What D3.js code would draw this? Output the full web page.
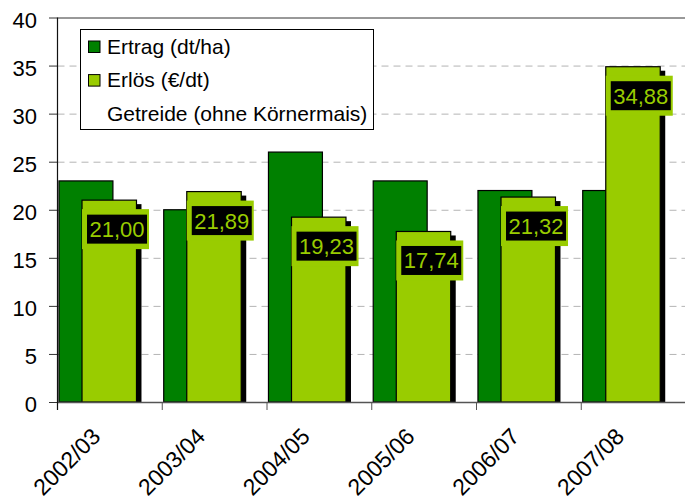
<!DOCTYPE html>
<html>
<head>
<meta charset="utf-8">
<script src="https://cdnjs.cloudflare.com/ajax/libs/d3/7.8.5/d3.min.js"></script>
<style>
  body { margin: 0; background: #fff; }
  svg { display: block; font-family: "Liberation Sans", Arial, sans-serif; }
</style>
</head>
<body>
<div id="chart"></div>
<script>
var categories = ["2002/03", "2003/04", "2004/05", "2005/06", "2006/07", "2007/08"];
var ertrag = [23, 20, 26, 23, 22, 22];
var erloes = [21.00, 21.89, 19.23, 17.74, 21.32, 34.88];
var yTicks = [0, 5, 10, 15, 20, 25, 30, 35, 40];
var legendLabels = ["Ertrag (dt/ha)", "Erlös (€/dt)", "Getreide (ohne Körnermais)"];

(function(d3) {
    var width = 685, height = 501;
    var left = 57.5, right = 686, top = 17.5, bottom = 402;
    var darkGreen = "#008000", lightGreen = "#99CC00";

    var svg = d3.select("#chart")
        .append("svg")
        .attr("width", width)
        .attr("height", height);

    var x = d3.scaleBand()
        .domain(categories)
        .range([left, right])
        .padding(0);

    var y = d3.scaleLinear()
        .domain([0, 40])
        .range([bottom, top]);

    var bw = x.bandwidth();

// GRID
    var grid = svg.append("g")
        .attr("transform", "translate(" + left + ",0)")
        .call(d3.axisLeft(y).tickValues(yTicks.slice(1)).tickSize(-(right - left)).tickFormat(""));
    grid.select(".domain").remove();
    grid.selectAll("line")
        .attr("stroke", function(d) { return d == 40 ? "#333" : "#b4b4b4"; })
        .attr("stroke-dasharray", function(d) { return d == 40 ? null : "7,5"; });

// AXIS Y
    var yAxis = svg.append("g")
        .attr("transform", "translate(" + left + ",0)")
        .call(d3.axisLeft(y).tickValues(yTicks).tickSize(8.5).tickPadding(12).tickSizeOuter(0));
    yAxis.select(".domain").remove();
    yAxis.selectAll("line").attr("stroke", "#333");
    yAxis.selectAll("text")
        .attr("font-size", "22px")
        .attr("font-family", "Liberation Sans, Arial, sans-serif")
        .attr("fill", "#000")
        .attr("dy", "9.5");

// BARS
    var idx = d3.range(categories.length);

    svg.selectAll("rect.ertrag")
        .data(idx)
        .enter()
        .append("rect")
        .attr("class", "ertrag")
        .attr("x", function(i) { return x(categories[i]) + bw * 0.014; })
        .attr("y", function(i) { return y(ertrag[i]); })
        .attr("width", bw * 0.515)
        .attr("height", function(i) { return bottom - y(ertrag[i]); })
        .attr("fill", darkGreen)
        .attr("stroke", "#000")
        .attr("stroke-width", 1.2);

    // shadow
    svg.selectAll("rect.shadow")
        .data(idx)
        .enter()
        .append("rect")
        .attr("class", "shadow")
        .attr("x", function(i) { return x(categories[i]) + bw * 0.234 + 5; })
        .attr("y", function(i) { return y(erloes[i]) + 4; })
        .attr("width", bw * 0.52)
        .attr("height", function(i) { return bottom - y(erloes[i]) - 4; })
        .attr("fill", "#000");

    svg.selectAll("rect.erloes")
        .data(idx)
        .enter()
        .append("rect")
        .attr("class", "erloes")
        .attr("x", function(i) { return x(categories[i]) + bw * 0.234; })
        .attr("y", function(i) { return y(erloes[i]); })
        .attr("width", bw * 0.52)
        .attr("height", function(i) { return bottom - y(erloes[i]); })
        .attr("fill", lightGreen)
        .attr("stroke", "#000")
        .attr("stroke-width", 1.2);

// LABELS
    var lab = svg.selectAll("g.lab")
        .data(idx)
        .enter()
        .append("g")
        .attr("class", "lab")
        .attr("transform", function(i) {
            return "translate(" + (x(categories[i]) + bw * 0.234) + "," + (y(erloes[i]) + 9) + ")";
        });
    lab.append("rect")
        .attr("width", 67)
        .attr("height", 40)
        .attr("fill", lightGreen);
    lab.append("rect")
        .attr("x", 5)
        .attr("y", 5.5)
        .attr("width", 60)
        .attr("height", 29)
        .attr("fill", "#000");
    lab.append("text")
        .text(function(i) { return erloes[i].toFixed(2).replace(".", ","); })
        .attr("x", 35)
        .attr("y", 28)
        .attr("text-anchor", "middle")
        .attr("font-size", "22px")
        .attr("fill", lightGreen);

// AXIS X
    var xAxis = svg.append("g")
        .attr("transform", "translate(0," + bottom + ")")
        .call(d3.axisBottom(x).tickSize(8).tickSizeOuter(0));
    xAxis.select(".domain").attr("stroke", "#555").attr("stroke-width", 1.5);
    xAxis.selectAll("line")
        .attr("stroke", "#555")
        .attr("x1", -bw / 2)
        .attr("x2", -bw / 2);
    xAxis.selectAll("text")
        .attr("font-size", "23px")
        .attr("font-family", "Liberation Sans, Arial, sans-serif")
        .attr("fill", "#000")
        .attr("text-anchor", "end")
        .attr("y", null)
        .attr("dy", null)
        .attr("transform", "translate(-8,36) rotate(-45)");

    // y axis line
    svg.append("line")
        .attr("x1", left).attr("x2", left)
        .attr("y1", top).attr("y2", bottom + 8)
        .attr("stroke", "#111")
        .attr("stroke-width", 1.2);

// LEGEND
    var legend = svg.append("g")
        .attr("transform", "translate(80.5,29.5)");
    legend.append("rect")
        .attr("width", 293)
        .attr("height", 100)
        .attr("fill", "#fff")
        .attr("stroke", "#000");
    var legendColors = [darkGreen, lightGreen, null];
    var items = legend.selectAll("g.item")
        .data(legendLabels)
        .enter()
        .append("g")
        .attr("class", "item")
        .attr("transform", function(d, i) { return "translate(0," + (24 + i * 33.6) + ")"; });
    items.filter(function(d, i) { return legendColors[i]; })
        .append("rect")
        .attr("x", 8)
        .attr("y", -12.5)
        .attr("width", 11.5)
        .attr("height", 11.5)
        .attr("fill", function(d, i) { return legendColors[i]; })
        .attr("stroke", "#000");
    items.append("text")
        .text(function(d) { return d; })
        .attr("x", 26.5)
        .attr("y", 0)
        .attr("font-size", "21px")
        .attr("fill", "#000");
})(window.d3);
</script>
</body>
</html>
